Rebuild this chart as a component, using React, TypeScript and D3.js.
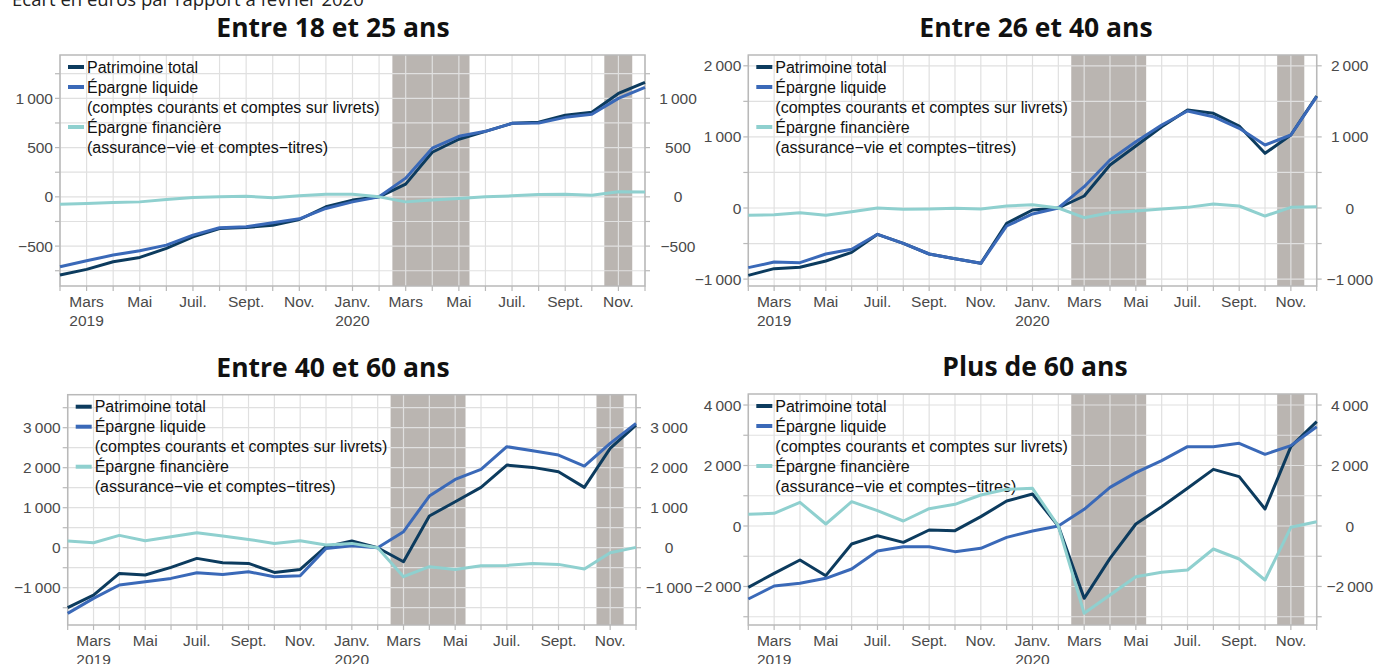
import React from "react";
import * as d3 from "d3";

// ---------- data ----------
const monthLabels = ["", "Mars", "", "Mai", "", "Juil.", "", "Sept.", "", "Nov.", "", "Janv.", "", "Mars", "", "Mai", "", "Juil.", "", "Sept.", "", "Nov.", ""];
const yearLabels = ["", "2019", "", "", "", "", "", "", "", "", "", "2020", "", "", "", "", "", "", "", "", "", "", ""];

const seriesNames = ["Patrimoine total", "Épargne liquide", "Épargne financière"];
const seriesSub = ["", "(comptes courants et comptes sur livrets)", "(assurance\u2212vie et comptes\u2212titres)"];

const total18 = [-794, -736, -659, -615, -523, -406, -321, -311, -289, -230, -101, -33, 0, 129, 453, 585, 665, 746, 757, 828, 858, 1050, 1163];
const liquide18 = [-710, -649, -591, -548, -490, -388, -314, -304, -264, -223, -118, -51, 0, 190, 494, 615, 665, 746, 750, 807, 838, 1000, 1112];
const financiere18 = [-74, -67, -57, -51, -27, -7, 0, 7, -10, 10, 27, 27, 0, -51, -33, -17, 0, 10, 24, 27, 17, 51, 48];

const total26 = [-947, -853, -834, -745, -624, -370, -497, -647, -713, -778, -215, -28, 0, 169, 605, 872, 1143, 1378, 1332, 1153, 769, 1027, 1575];
const liquide26 = [-839, -760, -769, -647, -581, -370, -497, -647, -713, -778, -253, -84, 0, 300, 675, 933, 1167, 1364, 1284, 1121, 886, 1027, 1566];
const financiere26 = [-103, -94, -66, -103, -52, 0, -19, -14, -5, -14, 28, 47, 0, -136, -66, -42, -14, 9, 56, 28, -113, 9, 19];

const total40 = [-1500, -1183, -642, -683, -492, -267, -375, -392, -617, -542, 25, 167, 0, -350, 792, 1150, 1508, 2067, 2008, 1900, 1508, 2483, 3067];
const liquide40 = [-1642, -1267, -933, -850, -767, -625, -667, -600, -725, -700, -17, 50, 0, 400, 1292, 1708, 1958, 2525, 2425, 2317, 2042, 2608, 3108];
const financiere40 = [167, 125, 308, 175, 275, 375, 292, 208, 108, 175, 67, 108, 0, -725, -475, -542, -450, -442, -392, -417, -533, -125, 8];

const total60 = [-2028, -1565, -1124, -1642, -595, -320, -540, -132, -154, 309, 826, 1058, 0, -2391, -1069, 66, 639, 1245, 1873, 1631, 562, 2623, 3449];
const liquide60 = [-2413, -1983, -1895, -1730, -1422, -826, -683, -683, -848, -738, -375, -165, 0, 551, 1278, 1763, 2160, 2623, 2623, 2733, 2369, 2656, 3284];
const financiere60 = [386, 419, 782, 66, 804, 507, 165, 573, 716, 1025, 1212, 1245, 0, -2887, -2281, -1675, -1532, -1455, -760, -1091, -1785, -44, 143];

// confinement periods, in month index (0 = février 2019)
const lockdowns = [[12.5, 15.4], [20.47, 21.52]];

// ---------- layout & style ----------
const colors = ["#0c3b5e", "#3a69b8", "#8fd0cf"];
const shadeColor = "#bab5b1";
const gridColor = "#e0e0e0";
const frameColor = "#b9b9b9";
const tickText = "#4a4a4a";
const sans = "'Liberation Sans', Arial, Helvetica, sans-serif";
const titleFont = "'Open Sans', sans-serif";

type Panel = {
  title: string; titleX: number;
  left: number; right: number; top: number; bottom: number;
  domain: [number, number]; major: number; minor: number;
  data: number[][];
};

const panels: Panel[] = [
  { title: "Entre 18 et 25 ans", titleX: 333, left: 60, right: 645, top: 55, bottom: 286, domain: [-905, 1440], major: 500, minor: 250, data: [total18, liquide18, financiere18] },
  { title: "Entre 26 et 40 ans", titleX: 1036, left: 748.3, right: 1316.7, top: 55, bottom: 286, domain: [-1097, 2152], major: 1000, minor: 500, data: [total26, liquide26, financiere26] },
  { title: "Entre 40 et 60 ans", titleX: 333, left: 67.7, right: 636, top: 394.7, bottom: 625, domain: [-1932, 3825], major: 1000, minor: 500, data: [total40, liquide40, financiere40] },
  { title: "Plus de 60 ans", titleX: 1035, left: 748.3, right: 1316.7, top: 394, bottom: 625, domain: [-3273, 4364], major: 2000, minor: 1000, data: [total60, liquide60, financiere60] },
];

const fmt = (v: number) => {
  const s = d3.format(",")(Math.abs(v)).replace(/,/g, "\u202f");
  return (v < 0 ? "\u2212" : "") + s;
};

function PanelView({ p }: { p: Panel }) {
  const n = monthLabels.length;
  const x = d3.scaleLinear().domain([0, n - 1]).range([p.left, p.right]);
  const y = d3.scaleLinear().domain(p.domain).range([p.bottom, p.top]);
  const minorTicks = d3.range(Math.ceil(p.domain[0] / p.minor) * p.minor, p.domain[1] + 1e-6, p.minor);
  const majorTicks = minorTicks.filter((v) => Math.abs(v / p.major - Math.round(v / p.major)) < 1e-9);
  const line = d3.line<number>().x((_, i) => x(i)).y((v) => y(v));
  const months = d3.range(n);

  const legendRows: { text: string; color?: string }[] = [];
  seriesNames.forEach((s, i) => {
    legendRows.push({ text: s, color: colors[i] });
    if (seriesSub[i]) legendRows.push({ text: seriesSub[i] });
  });

  return (
    <g>
      <text x={p.titleX} y={p.top - 18} textAnchor="middle" fontFamily={titleFont} fontWeight={700} fontSize={26.5} fill="#111">{p.title}</text>
      <rect x={p.left} y={p.top} width={p.right - p.left} height={p.bottom - p.top} fill="#fff" />
      {lockdowns.map(([a, b], i) => (
        <rect key={i} x={x(a)} y={p.top} width={x(b) - x(a)} height={p.bottom - p.top} fill={shadeColor} />
      ))}
      {months.map((m) => (
        <line key={"vg" + m} x1={x(m)} x2={x(m)} y1={p.top} y2={p.bottom} stroke={gridColor} strokeWidth={1.2} />
      ))}
      {minorTicks.map((v) => (
        <line key={"hg" + v} x1={p.left} x2={p.right} y1={y(v)} y2={y(v)} stroke={gridColor} strokeWidth={1.2} />
      ))}
      <rect x={p.left} y={p.top} width={p.right - p.left} height={p.bottom - p.top} fill="none" stroke={frameColor} strokeWidth={1.5} />
      {/* axis ticks */}
      {minorTicks.map((v) => (
        <g key={"yt" + v}>
          <line x1={p.left - 5} x2={p.left} y1={y(v)} y2={y(v)} stroke={frameColor} strokeWidth={1.2} />
          <line x1={p.right} x2={p.right + 5} y1={y(v)} y2={y(v)} stroke={frameColor} strokeWidth={1.2} />
        </g>
      ))}
      {majorTicks.map((v) => (
        <g key={"yl" + v} fontFamily={sans} fontSize={15.5} fill={tickText}>
          <text x={p.left - 7} y={y(v) + 5.5} textAnchor="end">{fmt(v)}</text>
          <text x={p.right + 33} y={y(v) + 5.5} textAnchor="middle">{fmt(v)}</text>
        </g>
      ))}
      {months.map((m) => (
        <line key={"xt" + m} x1={x(m)} x2={x(m)} y1={p.bottom} y2={p.bottom + 5} stroke={frameColor} strokeWidth={1.2} />
      ))}
      {months.map((m) => (
        <g key={"xl" + m} fontFamily={sans} fontSize={15.5} fill={tickText} textAnchor="middle">
          {monthLabels[m] && <text x={x(m)} y={p.bottom + 21}>{monthLabels[m]}</text>}
          {yearLabels[m] && <text x={x(m)} y={p.bottom + 40}>{yearLabels[m]}</text>}
        </g>
      ))}
      {/* legend */}
      {legendRows.map((r, i) => {
        const cy = p.top + 12 + i * 20;
        return (
          <g key={"lg" + i}>
            {r.color && <line x1={p.left + 8} x2={p.left + 24} y1={cy} y2={cy} stroke={r.color} strokeWidth={4} />}
            <text x={p.left + 27} y={cy + 5.5} fontFamily={sans} fontSize={16} fill="#111">{r.text}</text>
          </g>
        );
      })}
      {/* lines */}
      {p.data.map((d, i) => (
        <path key={"ln" + i} d={line(d) || ""} fill="none" stroke={colors[i]} strokeWidth={3} strokeLinejoin="round" />
      ))}
    </g>
  );
}

export default function App() {
  return (
    <svg width={1377} height={664} style={{ position: "absolute", left: 0, top: 0, background: "#fff" }}>
      <text x={12} y={6} fontFamily={titleFont} fontSize={18.5} fill="#222">Écart en euros par rapport à février 2020</text>
      {panels.map((p, i) => <PanelView key={i} p={p} />)}
    </svg>
  );
}
